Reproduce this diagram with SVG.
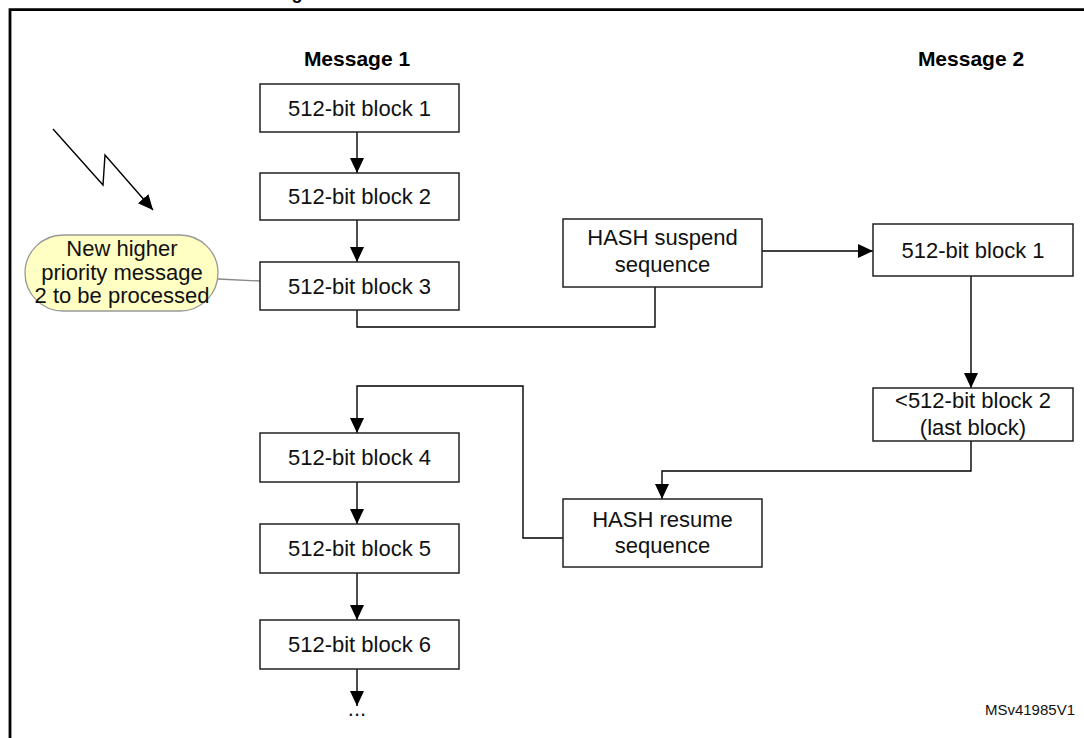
<svg xmlns="http://www.w3.org/2000/svg" width="1084" height="738" viewBox="0 0 1084 738">
<style>
.box{fill:#fff;stroke:#222;stroke-width:1.5}
.t{font-family:"Liberation Sans",Arial,sans-serif;font-size:22px;fill:#111;text-anchor:middle}
.h{font-family:"Liberation Sans",Arial,sans-serif;font-size:21px;font-weight:bold;fill:#000;text-anchor:middle}
.c{fill:none;stroke:#000;stroke-width:1.4}
</style>
<defs>
<marker id="ah" markerUnits="userSpaceOnUse" markerWidth="16" markerHeight="16" refX="15" refY="7" orient="auto">
<path d="M0,0 L15,7 L0,14 z" fill="#000"/>
</marker>
</defs>
<rect width="1084" height="738" fill="#fff"/>
<text x="297" y="-1" font-family="Liberation Sans,Arial,sans-serif" font-size="18" font-weight="bold" text-anchor="middle">g</text>
<path d="M10,738 V9.7 H1084" fill="none" stroke="#000" stroke-width="2.8"/>
<text class="h" x="357" y="66">Message 1</text>
<text class="h" x="971" y="66">Message 2</text>
<g id="connectors">
<path class="c" d="M357,132 V173" marker-end="url(#ah)"/>
<path class="c" d="M357,220 V262" marker-end="url(#ah)"/>
<path class="c" d="M357,310 V327 H655 V287"/>
<path class="c" d="M762,251 H873" marker-end="url(#ah)"/>
<path class="c" d="M971,276 V388" marker-end="url(#ah)"/>
<path class="c" d="M971,441 V471 H662 V499" marker-end="url(#ah)"/>
<path class="c" d="M563,538 H523 V386 H357 V433" marker-end="url(#ah)"/>
<path class="c" d="M357,482 V524" marker-end="url(#ah)"/>
<path class="c" d="M357,573 V620" marker-end="url(#ah)"/>
<path class="c" d="M357,669 V706" marker-end="url(#ah)"/>
<path d="M218,279 L260,281" fill="none" stroke="#888" stroke-width="1.3"/>
<path class="c" d="M53,129 L103,185 L105,155 L153,210" marker-end="url(#ah)"/>
</g>
<g id="m1b1"><rect class="box" x="260" y="84" width="199" height="48"/><text class="t" x="359.5" y="116">512-bit block 1</text></g>
<g id="m1b2"><rect class="box" x="260" y="173" width="199" height="47"/><text class="t" x="359.5" y="204">512-bit block 2</text></g>
<g id="m1b3"><rect class="box" x="260" y="262" width="199" height="48"/><text class="t" x="359.5" y="293.5">512-bit block 3</text></g>
<g id="note"><rect x="25" y="235" width="193" height="76" rx="38" ry="38" fill="#ffffc4" stroke="#999" stroke-width="1.3"/>
<text class="t" x="122" y="256" font-size="21">New higher</text>
<text class="t" x="122" y="280" font-size="21">priority message</text>
<text class="t" x="122" y="303" font-size="21">2 to be processed</text></g>
<g id="suspend"><rect class="box" x="563" y="219" width="199" height="68"/><text class="t" x="662.5" y="245">HASH suspend</text><text class="t" x="662.5" y="271.5">sequence</text></g>
<g id="m2b1"><rect class="box" x="873" y="224" width="200" height="52"/><text class="t" x="973" y="258">512-bit block 1</text></g>
<g id="m2b2"><rect class="box" x="873" y="388" width="200" height="53"/><text class="t" x="973" y="408">&lt;512-bit block 2</text><text class="t" x="973" y="435">(last block)</text></g>
<g id="resume"><rect class="box" x="563" y="499" width="199" height="68"/><text class="t" x="662.5" y="526.5">HASH resume</text><text class="t" x="662.5" y="553">sequence</text></g>
<g id="m1b4"><rect class="box" x="260" y="433" width="199" height="49"/><text class="t" x="359.5" y="465">512-bit block 4</text></g>
<g id="m1b5"><rect class="box" x="260" y="524" width="199" height="49"/><text class="t" x="359.5" y="556">512-bit block 5</text></g>
<g id="m1b6"><rect class="box" x="260" y="620" width="199" height="49"/><text class="t" x="359.5" y="652">512-bit block 6</text></g>
<text class="t" x="357" y="716" font-size="20">...</text>
<text x="1075" y="715" font-family="Liberation Sans,Arial,sans-serif" font-size="15" fill="#111" text-anchor="end">MSv41985V1</text>
</svg>
